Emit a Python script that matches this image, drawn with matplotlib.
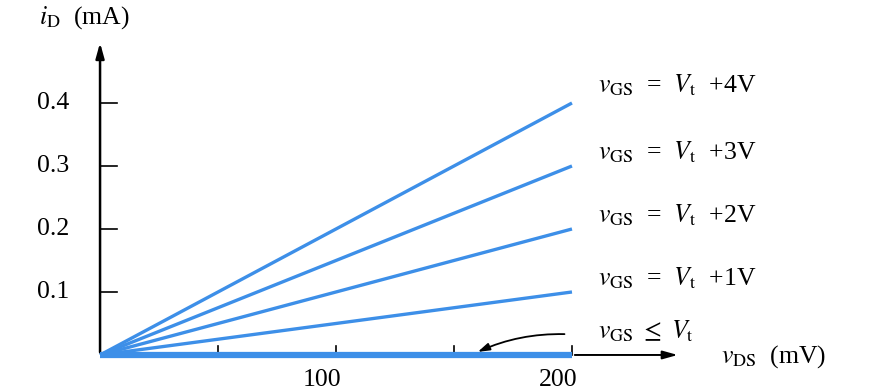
import matplotlib
matplotlib.use("Agg")
import matplotlib.pyplot as plt

plt.rcParams['font.family'] = ['Liberation Serif', 'DejaVu Serif']
plt.rcParams['mathtext.fontset'] = 'stix'

# data
vds_end = [0, 200]                      # mV
id_end = [0.4, 0.3, 0.2, 0.1]           # mA at 200 mV
curve_labels = [r'$v_{\rm GS}$  =  $V_{\rm t}$  +4V', r'$v_{\rm GS}$  =  $V_{\rm t}$  +3V',
                r'$v_{\rm GS}$  =  $V_{\rm t}$  +2V', r'$v_{\rm GS}$  =  $V_{\rm t}$  +1V']
cutoff_label = r'$v_{\rm GS}\ \leq\ V_{\rm t}$'
x_ticks = [50, 100, 150, 200]
x_ticklabels = ['', '100', '', '200']
y_ticks = [0.1, 0.2, 0.3, 0.4]
y_ticklabels = ['0.1', '0.2', '0.3', '0.4']

blue = '#3d8fe8'
fs = 18.5

fig = plt.figure(figsize=(8.7, 3.9), dpi=100)
ax = fig.add_axes([0, 0, 1, 1])
ax.set_xlim(-42.4, 326.3)
ax.set_ylim(-0.0556, 0.5635)
ax.axis('off')

# axes arrows
ax.annotate('', xy=(0, 0.50), xytext=(0, 0),
            arrowprops=dict(arrowstyle='-|>,head_length=0.9,head_width=0.25', color='black', lw=1.8))
ax.annotate('', xy=(246, 0), xytext=(200, 0),
            arrowprops=dict(arrowstyle='-|>,head_length=0.9,head_width=0.25', color='black', lw=1.4))

# ticks
for t in y_ticks:
    ax.plot([0, 7], [t, t], color='black', lw=1.2)
for t, lab in zip(y_ticks, y_ticklabels):
    ax.text(-13, t, lab, ha='right', va='center', fontsize=fs)
for t in x_ticks:
    ax.plot([t, t], [0, 0.014], color='black', lw=1.2)
for t, lab in zip(x_ticks, x_ticklabels):
    if lab:
        ax.text(t - 6, -0.040, lab, ha='center', va='center', fontsize=fs)

# curves
for yv in id_end:
    ax.plot(vds_end, [0, yv], color=blue, lw=2.4, solid_capstyle='butt')
ax.plot(vds_end, [0, 0], color=blue, lw=4.5, solid_capstyle='butt', zorder=5)

# labels
label_y = [0.428, 0.322, 0.222, 0.122]
for ly, lab in zip(label_y, curve_labels):
    ax.text(211, ly, lab, ha='left', va='center', fontsize=fs)
ax.text(211, 0.038, cutoff_label, ha='left', va='center', fontsize=fs)
ax.annotate('', xy=(159, 0.003), xytext=(198, 0.033),
            arrowprops=dict(arrowstyle='-|>,head_length=0.7,head_width=0.22', color='black', lw=1.3,
                            connectionstyle='arc3,rad=0.12'))

ax.text(-26, 0.535, r'$i_{\rm D}$  (mA)', ha='left', va='center', fontsize=fs)
ax.text(263, -0.002, r'$v_{\rm DS}$  (mV)', ha='left', va='center', fontsize=fs)

fig.savefig('out.png', dpi=100)
